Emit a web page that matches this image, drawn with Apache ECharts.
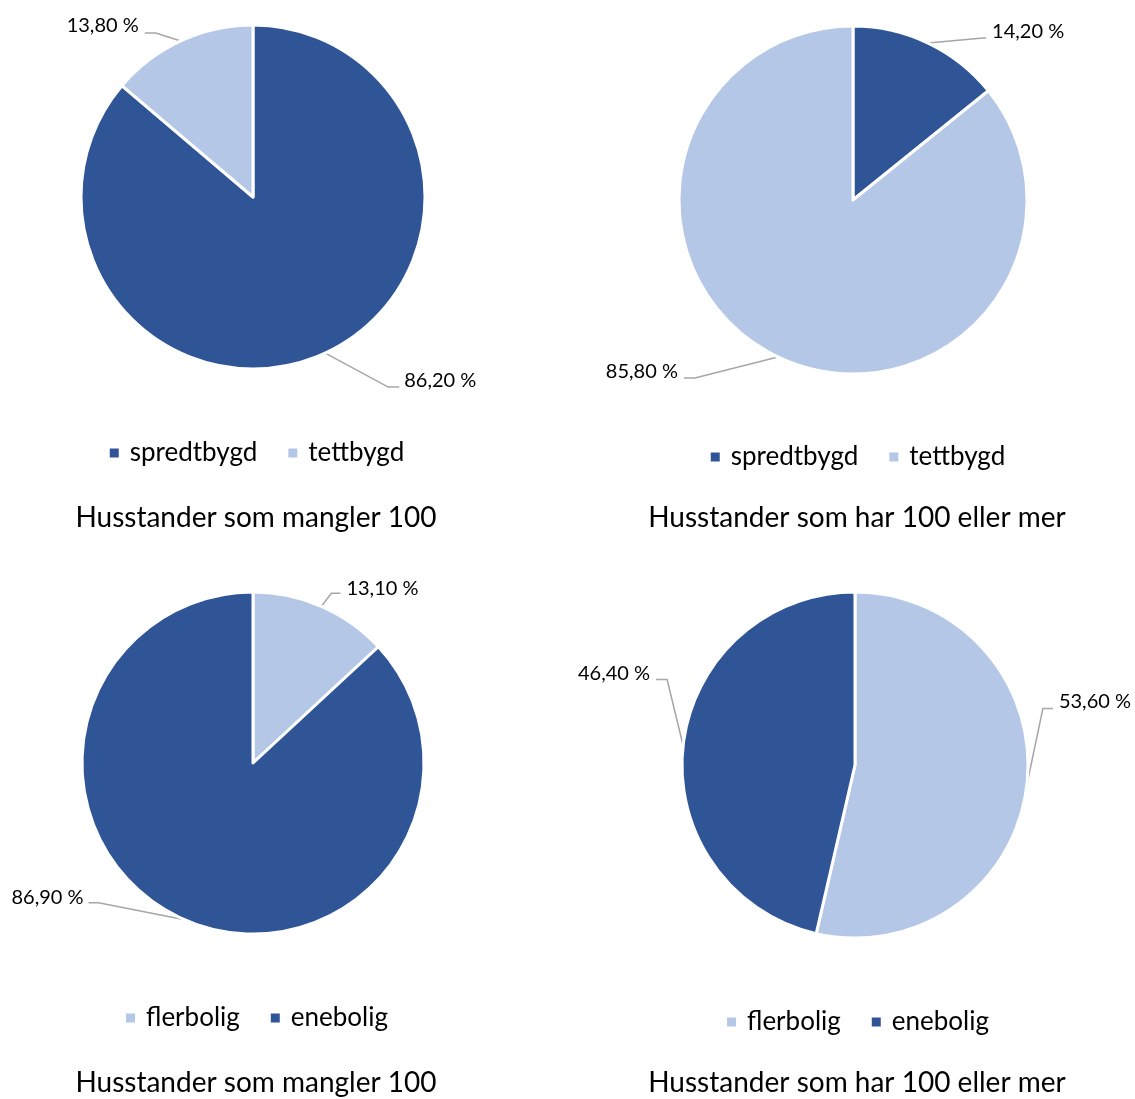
<!DOCTYPE html>
<html>
<head>
<meta charset="utf-8">
<script src="https://cdn.jsdelivr.net/npm/echarts@6/dist/echarts.min.js"></script>
<style>
  html, body { margin: 0; padding: 0; background: #fff; width: 1135px; height: 1099px; overflow: hidden; position: relative; }
  .c { position: absolute; }
</style>
</head>
<body>
<div id="c0" class="c" style="left:0px;top:0px;width:512px;height:560px;"></div>
<div id="c1" class="c" style="left:572px;top:0px;width:570px;height:560px;"></div>
<div id="c2" class="c" style="left:0px;top:560px;width:512px;height:539px;"></div>
<div id="c3" class="c" style="left:572px;top:560px;width:570px;height:539px;"></div>
<script>
// ---- data ----
const categoriesArea = ['spredtbygd', 'tettbygd'];
const categoriesHouse = ['flerbolig', 'enebolig'];
const valuesMangler100Area = [86.2, 13.8];
const valuesHar100Area = [14.2, 85.8];
const valuesMangler100House = [13.1, 86.9];
const valuesHar100House = [53.6, 46.4];
const titles = ['Husstander som mangler 100', 'Husstander som har 100 eller mer',
                'Husstander som mangler 100', 'Husstander som har 100 eller mer'];

// ---- styles ----
const DARK = '#2F5597';
const LIGHT = '#B4C7E7';
const FONT = 'Lato';
const colorOf = { spredtbygd: DARK, tettbygd: LIGHT, flerbolig: LIGHT, enebolig: DARK };

// per chart layout (local px)
const charts = [
  { el: 'c0', cats: categoriesArea, vals: valuesMangler100Area, title: titles[0], center: [253, 197], r: 172, legendTop: 435, titleTop: 499 },
  { el: 'c1', cats: categoriesArea, vals: valuesHar100Area, title: titles[1], center: [281, 200], r: 174, legendTop: 439, titleTop: 499 },
  { el: 'c2', cats: categoriesHouse, vals: valuesMangler100House, title: titles[2], center: [253, 203], r: 171, legendTop: 440, titleTop: 504 },
  { el: 'c3', cats: categoriesHouse, vals: valuesHar100House, title: titles[3], center: [283, 205], r: 173, legendTop: 444, titleTop: 504 }
];

// label leader geometry, offsets from the slice's edge anchor point
const labelGeom = [
  [ { elbow: [63, 34], end: [74, 34], text: [79, 27], align: 'left' },
    { elbow: [-25, -8], end: [-36, -8], text: [-42, -15], align: 'right' } ],
  [ { elbow: [55, -5], end: [58, -5], text: [64, -11], align: 'left' },
    { elbow: [-83, 21], end: [-94, 21], text: [-100, 15], align: 'right' } ],
  [ { elbow: [10, -13], end: [19, -13], text: [25, -18], align: 'left' },
    { elbow: [-86, -17], end: [-96, -17], text: [-101, -22], align: 'right' } ],
  [ { elbow: [16, -76], end: [26, -76], text: [32, -83], align: 'left' },
    { elbow: [-16, -66], end: [-27, -66], text: [-33, -72], align: 'right' } ]
];

function fmt(v) { return v.toFixed(2).replace('.', ',') + ' %'; }

charts.forEach(function (cfg, ci) {
  const chart = echarts.init(document.getElementById(cfg.el), null, { renderer: 'canvas' });
  const data = cfg.cats.map(function (name, i) {
    return { name: name, value: cfg.vals[i], itemStyle: { color: colorOf[name] } };
  });
  chart.setOption({
    animation: false,
    textStyle: { fontFamily: FONT },
    title: {
      text: cfg.title,
      left: 'center',
      top: cfg.titleTop,
      textStyle: { fontFamily: FONT, fontSize: 28, fontWeight: 'normal', color: '#000' }
    },
    legend: {
      data: cfg.cats,
      left: 'center',
      top: cfg.legendTop,
      icon: 'rect',
      itemWidth: 11,
      itemHeight: 11,
      itemGap: 29,
      selectedMode: false,
      textStyle: { fontFamily: FONT, fontSize: 26, color: '#000', padding: [0, 0, 0, 5] }
    },
    series: [{
      type: 'pie',
      center: cfg.center,
      radius: [0, cfg.r],
      startAngle: 90,
      clockwise: true,
      avoidLabelOverlap: false,
      data: data,
      itemStyle: { borderColor: '#fff', borderWidth: 3 },
      label: {
        show: true,
        position: 'outside',
        formatter: function (p) { return fmt(p.value); },
        fontFamily: FONT,
        fontSize: 20,
        color: '#000'
      },
      labelLine: { show: true, length: 20, length2: 10, lineStyle: { color: '#A6A6A6', width: 1.5 } },
      labelLayout: function (p) {
        const g = labelGeom[ci][p.dataIndex];
        const pts = p.labelLinePoints;
        if (!g || !pts || !pts[0]) return {};
        const a = pts[0];
        return {
          x: a[0] + g.text[0],
          y: a[1] + g.text[1],
          align: g.align,
          verticalAlign: 'middle',
          labelLinePoints: [
            [a[0], a[1]],
            [a[0] + g.elbow[0], a[1] + g.elbow[1]],
            [a[0] + g.end[0], a[1] + g.end[1]]
          ]
        };
      },
      emphasis: { disabled: true }
    }]
  });
});
</script>
</body>
</html>
